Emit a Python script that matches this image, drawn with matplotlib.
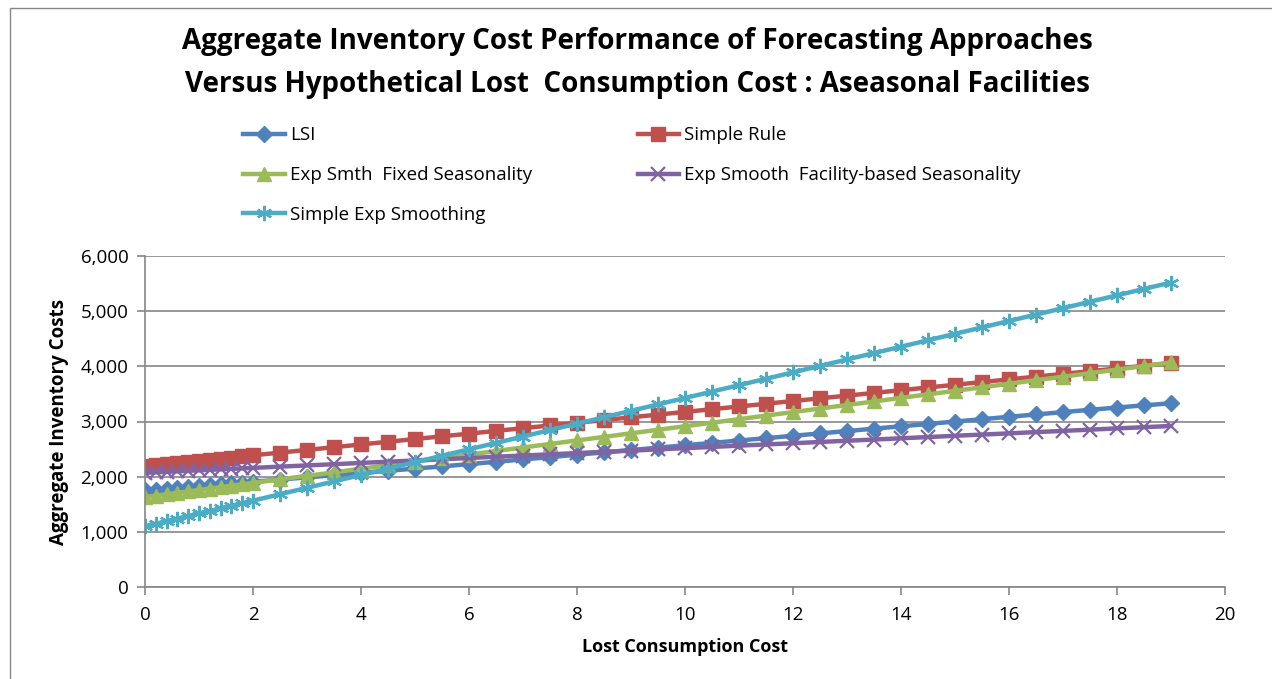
import matplotlib
matplotlib.use('Agg')

import matplotlib.pyplot as plt
from matplotlib.font_manager import fontManager
from matplotlib.patches import Rectangle
from matplotlib.ticker import FuncFormatter, MultipleLocator

# 字体：优先找窄一点的无衬线字体
_installed = {f.name for f in fontManager.ttflist}
_font = next((n for n in ['Liberation Sans Narrow', 'Open Sans', 'Liberation Sans']
              if n in _installed), 'DejaVu Sans')
plt.rcParams['font.family'] = [_font, 'DejaVu Sans']

# 数据
lost_cost = [0, 0.2, 0.4, 0.6, 0.8, 1.0, 1.2, 1.4, 1.6, 1.8, 2.0,
             2.5, 3, 3.5, 4, 4.5, 5, 5.5, 6, 6.5, 7, 7.5, 8, 8.5, 9, 9.5,
             10, 10.5, 11, 11.5, 12, 12.5, 13, 13.5, 14, 14.5, 15, 15.5,
             16, 16.5, 17, 17.5, 18, 18.5, 19]

lsi = [1750, 1766, 1782, 1798, 1814, 1830, 1846, 1862, 1878, 1894, 1908,
       1948, 1987, 2026, 2066, 2106, 2146, 2186, 2228, 2270, 2312, 2355,
       2398, 2440, 2483, 2526, 2569, 2612, 2655, 2698, 2741, 2784, 2827,
       2870, 2913, 2956, 2999, 3042, 3085, 3128, 3170, 3212, 3253, 3293, 3330]

simple_rule = [2190, 2210, 2229, 2249, 2269, 2288, 2308, 2328, 2347, 2367, 2387,
               2436, 2485, 2534, 2584, 2633, 2682, 2731, 2780, 2830, 2879, 2928,
               2977, 3026, 3076, 3125, 3174, 3223, 3272, 3322, 3371, 3420, 3469,
               3518, 3568, 3617, 3666, 3715, 3764, 3814, 3863, 3912, 3961, 4010, 4060]

exp_fixed = [1630, 1656, 1681, 1707, 1733, 1758, 1784, 1810, 1835, 1861, 1887,
             1951, 2015, 2079, 2144, 2208, 2272, 2336, 2400, 2465, 2529, 2593,
             2657, 2721, 2786, 2850, 2914, 2978, 3042, 3107, 3171, 3235, 3299,
             3363, 3428, 3492, 3556, 3620, 3684, 3749, 3813, 3877, 3941, 4005, 4070]

exp_facility = [2070, 2079, 2088, 2097, 2106, 2115, 2124, 2133, 2142, 2150, 2159,
                2182, 2204, 2226, 2249, 2271, 2294, 2316, 2338, 2361, 2383, 2405,
                2428, 2450, 2472, 2495, 2517, 2539, 2562, 2584, 2606, 2629, 2651,
                2673, 2696, 2718, 2741, 2763, 2785, 2808, 2830, 2852, 2875, 2897, 2919]

simple_exp = [1100, 1147, 1193, 1240, 1286, 1333, 1379, 1426, 1472, 1519, 1565,
              1682, 1798, 1914, 2030, 2147, 2263, 2379, 2496, 2612, 2728, 2845,
              2961, 3077, 3193, 3310, 3426, 3542, 3659, 3775, 3891, 4008, 4124,
              4240, 4356, 4473, 4589, 4705, 4822, 4938, 5054, 5171, 5287, 5403, 5519]

series_names = ['LSI', 'Simple Rule', 'Exp Smth  Fixed Seasonality',
                'Exp Smooth  Facility-based Seasonality', 'Simple Exp Smoothing']

# 颜色配置（Office 默认）
COLORS = ['#4F81BD', '#C0504D', '#9BBB59', '#8064A2', '#4BACC6']
GRID = '#868686'

fig = plt.figure(figsize=(12.72, 6.79), dpi=100)
ax = fig.add_axes([145 / 1272, 1 - 587 / 679, 1080 / 1272, 331 / 679])

# 外框
fig.patches.append(Rectangle((10 / 1272, -0.1), 1.2, (1 - 8 / 679) + 0.1,
                             transform=fig.transFigure, fill=False,
                             edgecolor=GRID, linewidth=1))

lw = 3.2
lines = []
lines += ax.plot(lost_cost, lsi, color=COLORS[0], lw=lw, marker='D', ms=8.5,
                 label=series_names[0])
lines += ax.plot(lost_cost, simple_rule, color=COLORS[1], lw=lw, marker='s', ms=9.5,
                 label=series_names[1])
lines += ax.plot(lost_cost, exp_fixed, color=COLORS[2], lw=lw, marker='^', ms=10,
                 label=series_names[2])
lines += ax.plot(lost_cost, exp_facility, color=COLORS[3], lw=lw, marker='x', ms=10,
                 mew=1.6, label=series_names[3])
lines += ax.plot(lost_cost, simple_exp, color=COLORS[4], lw=lw, marker=(6, 2, 0),
                 ms=11, mew=1.6, label=series_names[4])

ax.set_xlim(0, 20)
ax.set_ylim(0, 6000)
ax.xaxis.set_major_locator(MultipleLocator(2))
ax.yaxis.set_major_locator(MultipleLocator(1000))
ax.yaxis.set_major_formatter(FuncFormatter(lambda v, _: f'{v:,.0f}'))

ax.grid(True, axis='y', color=GRID, linewidth=1.2)
ax.set_axisbelow(True)
for side in ['top', 'right']:
    ax.spines[side].set_visible(False)
for side in ['left', 'bottom']:
    ax.spines[side].set_color(GRID)
    ax.spines[side].set_linewidth(1.2)
ax.tick_params(axis='both', colors=GRID, length=6, width=1.2, labelsize=13.5,
               labelcolor='black')
ax.tick_params(axis='y', pad=6)
ax.tick_params(axis='x', pad=8)

ax.set_xlabel('Lost Consumption Cost', fontsize=13, fontweight='bold', labelpad=10)
ax.set_ylabel('Aggregate Inventory Costs', fontsize=13.5, fontweight='bold', labelpad=8)

fig.text(637 / 1272, 1 - 63 / 679,
         'Aggregate Inventory Cost Performance of Forecasting Approaches\n'
         'Versus Hypothetical Lost  Consumption Cost : Aseasonal Facilities',
         ha='center', va='center', fontsize=20, fontweight='bold', linespacing=1.62)

# 图例按行排列：matplotlib 按列填充，所以重新排序
order = [0, 2, 4, 1, 3]
fig.legend(handles=[lines[i] for i in order], ncol=2, loc='upper left',
           bbox_to_anchor=(236 / 1272, 1 - 119 / 679), frameon=False,
           fontsize=13.5, handlelength=2.2, handletextpad=0.3,
           columnspacing=5.6, labelspacing=1.15, borderaxespad=0)

fig.savefig('out.png', dpi=100, facecolor='white')
